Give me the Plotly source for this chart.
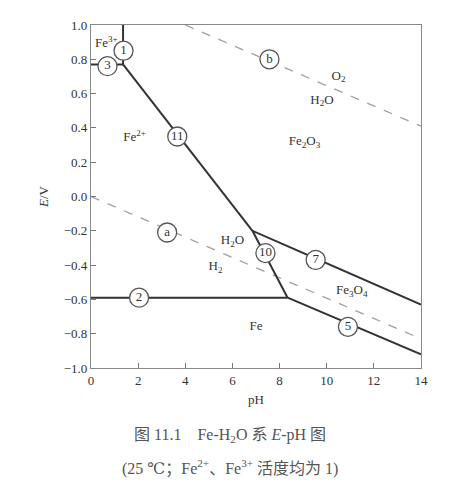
import plotly.graph_objects as go

# Boundary lines (pH, E/V)
line1_ph, line1_E = [1.36, 1.36], [0.77, 1.0]
line3_ph, line3_E = [0.0, 1.36], [0.77, 0.77]
line11_ph, line11_E = [1.36, 6.85], [0.77, -0.20]
line10_ph, line10_E = [6.85, 8.34], [-0.20, -0.59]
line7_ph, line7_E = [6.85, 14.0], [-0.20, -0.63]
line2_ph, line2_E = [0.0, 8.34], [-0.59, -0.59]
line5_ph, line5_E = [8.34, 14.0], [-0.59, -0.92]
linea_ph, linea_E = [0.0, 14.0], [0.0, -0.83]
lineb_ph, lineb_E = [4.0, 14.0], [1.0, 0.41]

# Circled line numbers
circ_text = ["1", "3", "11", "b", "a", "10", "7", "2", "5"]
circ_ph = [1.38, 0.70, 3.66, 7.57, 3.23, 7.40, 9.53, 2.04, 10.90]
circ_E = [0.85, 0.76, 0.35, 0.80, -0.21, -0.33, -0.37, -0.59, -0.76]

# Region labels
reg_text = ["Fe<sup>3+</sup>", "Fe<sup>2+</sup>", "O<sub>2</sub>", "H<sub>2</sub>O",
            "Fe<sub>2</sub>O<sub>3</sub>", "H<sub>2</sub>O", "H<sub>2</sub>",
            "Fe<sub>3</sub>O<sub>4</sub>", "Fe"]
reg_ph = [0.65, 1.85, 10.5, 9.8, 9.06, 6.0, 5.28, 11.06, 7.0]
reg_E = [0.89, 0.34, 0.70, 0.56, 0.32, -0.26, -0.41, -0.55, -0.76]

x_ticks = [0, 2, 4, 6, 8, 10, 12, 14]
y_ticks = [-1.0, -0.8, -0.6, -0.4, -0.2, 0.0, 0.2, 0.4, 0.6, 0.8, 1.0]

SERIF = "Liberation Serif, DejaVu Serif, Noto Sans CJK SC, serif"
solid = dict(color="#333333", width=2)
dash = dict(color="#a0a0a0", width=1.3, dash="dash")

fig = go.Figure()
for xs, ys, st in [
    (linea_ph, linea_E, dash), (lineb_ph, lineb_E, dash),
    (line1_ph, line1_E, solid), (line3_ph, line3_E, solid),
    (line11_ph, line11_E, solid), (line10_ph, line10_E, solid),
    (line7_ph, line7_E, solid), (line2_ph, line2_E, solid),
    (line5_ph, line5_E, solid),
]:
    fig.add_trace(go.Scatter(x=xs, y=ys, mode="lines", line=st,
                             hoverinfo="skip", showlegend=False))

fig.add_trace(go.Scatter(
    x=circ_ph, y=circ_E, mode="markers+text", text=circ_text,
    textposition="middle center",
    textfont=dict(family=SERIF, size=13, color="#333333"),
    marker=dict(size=19, color="white", line=dict(color="#555555", width=1.3)),
    showlegend=False, hoverinfo="skip"))

fig.add_trace(go.Scatter(
    x=reg_ph, y=reg_E, mode="text", text=reg_text,
    textposition="middle center",
    textfont=dict(family=SERIF, size=13, color="#333333"),
    showlegend=False, hoverinfo="skip"))

fig.update_xaxes(range=[0, 14], tickvals=x_ticks, ticks="inside", ticklen=5,
                 tickcolor="#777", showline=True, linecolor="#888", linewidth=1.2,
                 mirror=True, showgrid=False, zeroline=False,
                 tickfont=dict(family=SERIF, size=13, color="#333"),
                 title=dict(text="pH", font=dict(family=SERIF, size=13, color="#333"),
                            standoff=8))
fig.update_yaxes(range=[-1, 1], tickvals=y_ticks, tickformat=".1f", ticks="inside",
                 ticklen=5, tickcolor="#777", showline=True, linecolor="#888",
                 linewidth=1.2, mirror=True, showgrid=False, zeroline=False,
                 tickfont=dict(family=SERIF, size=13, color="#333"),
                 title=dict(text="<i>E</i>/V", font=dict(family=SERIF, size=13, color="#333"),
                            standoff=12))

fig.add_annotation(text="图 11.1    Fe-H<sub>2</sub>O 系 <i>E</i>-pH 图",
                   xref="paper", yref="paper", x=0.42, y=-0.197, yanchor="middle",
                   showarrow=False, font=dict(family=SERIF, size=16, color="#555"))
fig.add_annotation(text="(25 ℃；Fe<sup>2+</sup>、Fe<sup>3+</sup> 活度均为 1)",
                   xref="paper", yref="paper", x=0.42, y=-0.291, yanchor="middle",
                   showarrow=False, font=dict(family=SERIF, size=16, color="#555"))

fig.update_layout(width=468, height=500, plot_bgcolor="white", paper_bgcolor="white",
                  margin=dict(l=83, r=55, t=10, b=140))

fig.write_html("out.html")
